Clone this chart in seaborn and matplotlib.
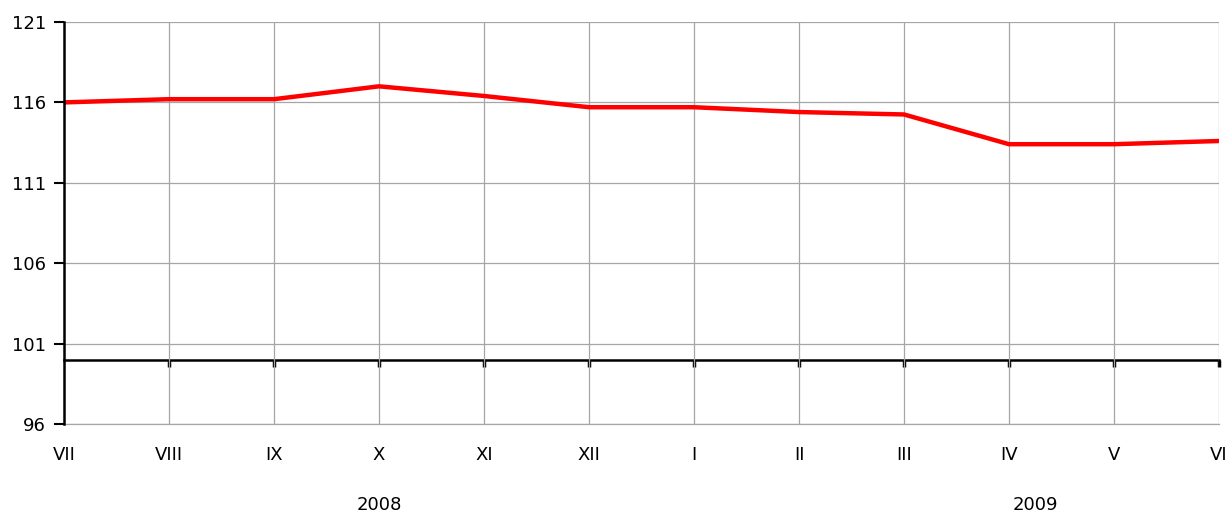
import matplotlib
matplotlib.use("Agg")
import matplotlib.pyplot as plt
import matplotlib.transforms as mtransforms
import seaborn as sns
import pandas as pd

months = ["VII", "VIII", "IX", "X", "XI", "XII", "I", "II", "III", "IV", "V", "VI"]
values = [116.0, 116.2, 116.2, 117.0, 116.4, 115.7, 115.7, 115.4, 115.25, 113.4, 113.4, 113.6]
years = ["2008", "2009"]
year_pos = [3.0, 9.25]
y_ticks = [96, 101, 106, 111, 116, 121]

df = pd.DataFrame({"pos": range(len(months)), "value": values})

sns.set_style("white")
plt.rcParams["font.family"] = ["DejaVu Sans"]
plt.rcParams["text.color"] = "black"
plt.rcParams["xtick.color"] = "black"
plt.rcParams["ytick.color"] = "black"

fig = plt.figure(figsize=(12.31, 5.13), dpi=100)
ax = fig.add_axes([64 / 1231, 1 - 424 / 513, (1219 - 64) / 1231, (424 - 22) / 513])

sns.lineplot(data=df, x="pos", y="value", color="#ff0000", linewidth=3.2, ax=ax, zorder=5)

ax.set_xlim(0, len(months) - 1)
ax.set_ylim(96, 121)
ax.set_yticks(y_ticks)
ax.set_xticks(range(len(months)))
ax.set_xticklabels(months)
ax.set_xlabel("")
ax.set_ylabel("")

ax.grid(True, color="#a6a6a6", linewidth=0.9)
ax.set_axisbelow(True)

for s in ["top", "right"]:
    ax.spines[s].set_visible(False)
ax.spines["bottom"].set_color("#a6a6a6")
ax.spines["bottom"].set_linewidth(0.9)
ax.spines["left"].set_color("black")
ax.spines["left"].set_linewidth(1.8)
ax.spines["left"].set_zorder(6)

ax.tick_params(axis="y", direction="out", length=7, width=1.5, color="black",
               labelsize=13, pad=6, left=True, labelcolor="black")
ax.tick_params(axis="x", length=0, labelsize=13, pad=16, labelcolor="black")

# black reference line at 100 with small ticks
base = (100 - 96) / (121 - 96)
sec = ax.secondary_xaxis(base)
sec.set_xticks(range(1, len(months)))
sec.set_xticklabels([])
sec.spines["bottom"].set_linewidth(1.8)
sec.spines["bottom"].set_color("black")
sec.tick_params(axis="x", direction="out", bottom=True, length=5, width=2.5, color="black")

trans = mtransforms.blended_transform_factory(ax.transData, fig.transFigure)
for yr, p in zip(years, year_pos):
    ax.text(p, 1 - 505 / 513, yr, transform=trans, ha="center", va="center",
            fontsize=13, color="black")

fig.savefig("out.png", dpi=100)
